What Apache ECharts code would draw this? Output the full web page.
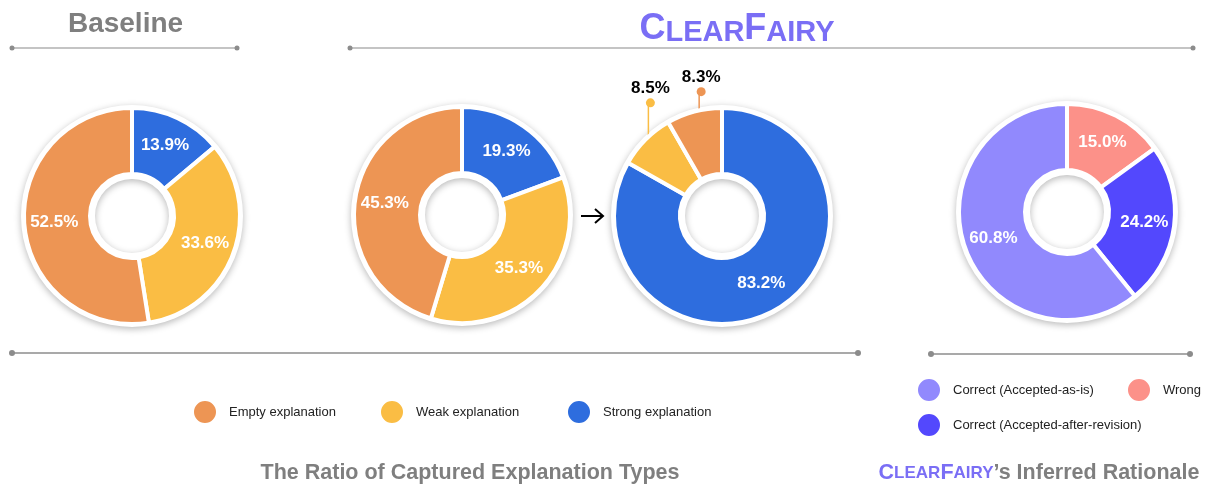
<!DOCTYPE html>
<html>
<head>
<meta charset="utf-8">
<script src="https://cdn.jsdelivr.net/npm/echarts@6/dist/echarts.min.js"></script>
<style>html,body{margin:0;padding:0;background:#fff}#c{width:1208px;height:486px}</style>
</head>
<body>
<div id="c"></div>
<script>
// ---- data ----
const explanationTypes = ['Strong explanation', 'Weak explanation', 'Empty explanation'];
const baselineValues = [13.9, 33.6, 52.5];
const clearFairyBeforeValues = [19.3, 35.3, 45.3];
const clearFairyAfterValues = [83.2, 8.5, 8.3];
const rationaleTypes = ['Wrong', 'Correct (Accepted-after-revision)', 'Correct (Accepted-as-is)'];
const rationaleValues = [15.0, 24.2, 60.8];
const explanationLegend = ['Empty explanation', 'Weak explanation', 'Strong explanation'];
const rationaleLegend = ['Correct (Accepted-as-is)', 'Wrong', 'Correct (Accepted-after-revision)'];
const afterOutsideLabels = ['Weak explanation', 'Empty explanation'];

// ---- styles ----
const colors = {
  'Strong explanation': '#2E6DDE',
  'Weak explanation': '#FABD44',
  'Empty explanation': '#ED9554',
  'Wrong': '#FC9189',
  'Correct (Accepted-after-revision)': '#5348FD',
  'Correct (Accepted-as-is)': '#9189FD'
};
const FONT = '"Liberation Sans", Arial, Helvetica, sans-serif';
const R_IN = 42, R_OUT = 108;
// leader line style for outside labels: vertical lift and small sideways nudge (px)
const leaderStyle = { 'Weak explanation': { lift: 37, nudge: 3 }, 'Empty explanation': { lift: 20, nudge: 5 } };

function ring(center) {
  return {
    type: 'pie', silent: true, center: center, radius: [R_IN - 5, R_OUT + 3],
    label: { show: false }, labelLine: { show: false }, z: 1, animation: false,
    itemStyle: { color: '#fff', shadowColor: 'rgba(0,0,0,0.28)', shadowBlur: 7, shadowOffsetY: 2 },
    data: [{ value: 1, name: '' }]
  };
}

function donut(name, center, names, values, outside) {
  outside = outside || [];
  return {
    type: 'pie', name: name, center: center, radius: [R_IN, R_OUT], z: 2,
    startAngle: 90, clockwise: true, avoidLabelOverlap: false, animation: false,
    itemStyle: { borderColor: '#fff', borderWidth: 4 },
    label: {
      show: true, position: 'inside', color: '#fff', fontSize: 17, fontWeight: 'bold', fontFamily: FONT,
      formatter: p => p.value.toFixed(1) + '%'
    },
    labelLine: { show: false },
    emphasis: { scale: false },
    labelLayout: outside.length ? function (p) {
      const nm = names[p.dataIndex];
      if (outside.indexOf(nm) < 0 || !p.labelLinePoints) return {};
      const st = leaderStyle[nm];
      const p0 = p.labelLinePoints[0];
      const lx = p0[0] + st.nudge;
      const ey = p0[1] - st.lift;
      return { x: lx + 2, y: ey + 4.5, align: 'center', verticalAlign: 'bottom',
               labelLinePoints: [[lx, p0[1] + 2], [lx, ey], [lx, ey]] };
    } : null,
    data: names.map((n, i) => {
      const d = { name: n, value: values[i], itemStyle: { color: colors[n] } };
      if (outside.indexOf(n) >= 0) {
        d.label = {
          position: 'outside',
          formatter: p => '{v|' + p.value.toFixed(1) + '%}\n{dot| }',
          rich: {
            v: { color: '#000', fontSize: 17, fontWeight: 'bold', fontFamily: FONT, lineHeight: 20, align: 'center' },
            dot: { width: 9, height: 9, borderRadius: 4.5, backgroundColor: colors[n], lineHeight: 9, align: 'center' }
          }
        };
        d.labelLine = { show: true, length: 10, length2: 0, lineStyle: { color: colors[n], width: 1.5 } };
      }
      return d;
    })
  };
}

function legendItem(name, left, top) {
  return {
    data: [name], left: left, top: top, padding: 0, icon: 'circle', itemWidth: 24, itemHeight: 24,
    selectedMode: false,
    textStyle: { fontSize: 13, color: '#222', fontFamily: FONT, padding: [0, 0, 0, 7] }
  };
}

function hline(x1, x2, y, color, w, dotColor, dr) {
  return [
    { type: 'line', shape: { x1: x1, y1: y, x2: x2, y2: y }, style: { stroke: color, lineWidth: w }, silent: true },
    { type: 'circle', shape: { cx: x1, cy: y, r: dr }, style: { fill: dotColor }, silent: true },
    { type: 'circle', shape: { cx: x2, cy: y, r: dr }, style: { fill: dotColor }, silent: true }
  ];
}

const PURPLE = '#7A6EF5', GREY = '#7F7F7F';

const chart = echarts.init(document.getElementById('c'), null, { renderer: 'canvas' });
chart.setOption({
  backgroundColor: '#fff',
  animation: false,
  legend: [
    legendItem(explanationLegend[0], 192, 399),
    legendItem(explanationLegend[1], 379, 399),
    legendItem(explanationLegend[2], 566, 399),
    legendItem(rationaleLegend[0], 916, 377),
    legendItem(rationaleLegend[1], 1126, 377),
    legendItem(rationaleLegend[2], 916, 412)
  ],
  series: [
    ring([132, 216]), donut('Baseline', [132, 216], explanationTypes, baselineValues),
    ring([462, 215]), donut('ClearFairy (before)', [462, 215], explanationTypes, clearFairyBeforeValues),
    ring([722, 216]), donut('ClearFairy (after)', [722, 216], explanationTypes, clearFairyAfterValues, afterOutsideLabels),
    ring([1067, 212]), donut('Inferred Rationale', [1067, 212], rationaleTypes, rationaleValues)
  ],
  graphic: [].concat(
    hline(12, 237, 48, '#C4C4C4', 2, '#8C8C8C', 2.5),
    hline(350, 1193, 48, '#C4C4C4', 2, '#8C8C8C', 2.5),
    hline(12, 858, 353, '#8C8C8C', 1.5, '#8C8C8C', 3),
    hline(931, 1190, 354, '#8C8C8C', 1.5, '#8C8C8C', 3),
    [
      { type: 'text', x: 125.5, y: 24, silent: true,
        style: { text: 'Baseline', fill: GREY, font: 'bold 28px ' + FONT, align: 'center', verticalAlign: 'middle' } },
      { type: 'text', x: 737, y: 29, silent: true,
        style: { text: '{b|C}{s|LEAR}{b|F}{s|AIRY}', align: 'center', verticalAlign: 'middle',
          rich: { b: { fill: PURPLE, font: 'bold 36px ' + FONT, verticalAlign: 'bottom' },
                  s: { fill: PURPLE, font: 'bold 29px ' + FONT, verticalAlign: 'bottom' } } } },
      { type: 'text', x: 470, y: 473, silent: true,
        style: { text: 'The Ratio of Captured Explanation Types', fill: GREY, font: 'bold 21.5px ' + FONT, align: 'center', verticalAlign: 'middle' } },
      { type: 'text', x: 1039, y: 473, silent: true,
        style: { text: '{b|C}{s|LEAR}{b|F}{s|AIRY}{g|\u2019s Inferred Rationale}', align: 'center', verticalAlign: 'middle',
          rich: { b: { fill: PURPLE, font: 'bold 21.5px ' + FONT },
                  s: { fill: PURPLE, font: 'bold 17px ' + FONT },
                  g: { fill: GREY, font: 'bold 21.5px ' + FONT } } } },
      { type: 'line', shape: { x1: 581, y1: 216, x2: 603, y2: 216 }, style: { stroke: '#000', lineWidth: 2 }, silent: true },
      { type: 'polyline', shape: { points: [[595, 209], [603, 216], [595, 223]] }, style: { stroke: '#000', lineWidth: 2, fill: null }, silent: true }
    ]
  )
});
</script>
</body>
</html>
